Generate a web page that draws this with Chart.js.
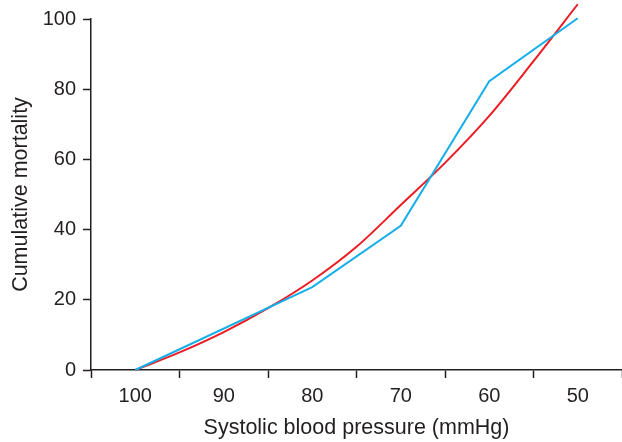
<!DOCTYPE html>
<html>
<head>
<meta charset="utf-8">
<script src="https://cdn.jsdelivr.net/npm/chart.js@4"></script>
<style>
  html, body { margin: 0; padding: 0; background: #fff; }
  #wrap { width: 622px; height: 442px; }
</style>
</head>
<body>
<div id="wrap"><canvas id="chart"></canvas></div>
<script>
// observed cumulative mortality (blue)
const bpObserved = [100, 80, 70, 60, 50];
const mortObserved = [0, 23.6, 41.1, 82.3, 100.2];

// fitted curve (red)
const bpFitted = [100, 95, 90, 85, 80, 75, 70, 65, 60, 55, 50];
const mortFitted = [0, 5, 10.8, 17.6, 25.5, 35.1, 47, 59, 72.4, 88, 104.2];

const yTicks = [0, 20, 40, 60, 80, 100];

const axisColor = "#231f20";
const font = { family: "'Liberation Sans', Arial, sans-serif", size: 20 };
const titleFont = { family: "'Liberation Sans', Arial, sans-serif", size: 21.5 };

const toPoints = (xs, ys) => xs.map((x, i) => ({ x: x, y: ys[i] }));

new Chart(document.getElementById("chart"), {
  type: "line",
  data: {
    datasets: [{
      label: "Observed",
      data: toPoints(bpObserved, mortObserved),
      borderColor: "#14aee9",
      borderWidth: 2,
      pointRadius: 0,
      tension: 0
    }, {
      label: "Fitted",
      data: toPoints(bpFitted, mortFitted),
      borderColor: "#ec1c24",
      borderWidth: 2,
      pointRadius: 0,
      cubicInterpolationMode: "monotone"
    }]
  },
  options: {
    responsive: true,
    maintainAspectRatio: false,
    animation: false,
    clip: false,
    layout: { padding: { top: 19, right: 0, left: 0, bottom: 0 } },
    plugins: { legend: { display: false }, tooltip: { enabled: false } },
    scales: {
      x: {
        type: "linear",
        reverse: true,
        min: 45,
        max: 105,
        afterFit: s => { s.height = 72; s.paddingRight = 0; s.paddingLeft = 0; },
        border: { color: axisColor, width: 1.5 },
        grid: {
          drawOnChartArea: false,
          drawTicks: true,
          tickLength: 8,
          tickWidth: 1.5,
          tickColor: ctx => (ctx.tick && ctx.tick.value % 10 === 0) ? "rgba(0,0,0,0)" : axisColor
        },
        ticks: {
          stepSize: 5,
          autoSkip: false,
          maxRotation: 0,
          padding: 6,
          color: axisColor,
          font: font,
          callback: v => (v % 10 === 0 ? String(v) : "")
        },
        title: {
          display: true,
          text: "Systolic blood pressure (mmHg)",
          color: axisColor,
          font: titleFont,
          padding: { top: 0, bottom: 1 }
        }
      },
      y: {
        min: 0,
        max: 100,
        afterFit: s => { s.width = 91; s.paddingTop = 0; s.paddingBottom = 0; },
        afterBuildTicks: s => { s.ticks = yTicks.map(v => ({ value: v })); },
        border: { color: axisColor, width: 1.5 },
        grid: {
          drawOnChartArea: false,
          drawTicks: true,
          tickLength: 8,
          tickWidth: 1.5,
          tickColor: axisColor
        },
        ticks: {
          padding: 7,
          color: axisColor,
          font: font
        },
        title: {
          display: true,
          text: "Cumulative mortality",
          color: axisColor,
          font: titleFont,
          padding: { top: 8, bottom: 0 }
        }
      }
    }
  }
});
</script>
</body>
</html>
